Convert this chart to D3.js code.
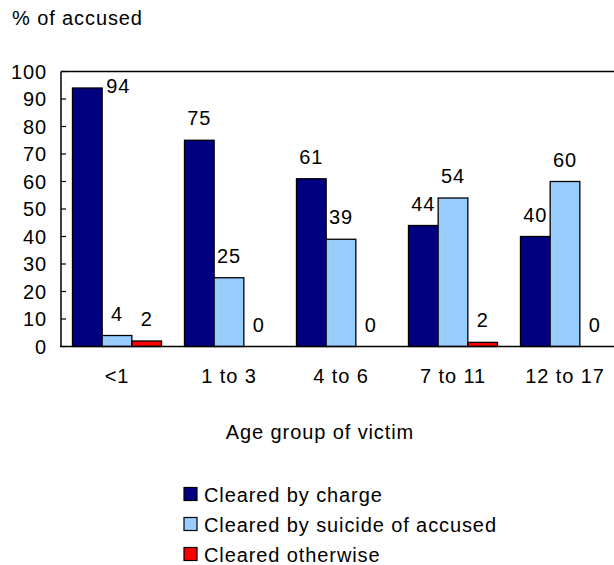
<!DOCTYPE html>
<html>
<head>
<meta charset="utf-8">
<script src="https://cdn.jsdelivr.net/npm/d3@7"></script>
<style>
  body { margin: 0; background: #fff; }
  text { font-family: "Liberation Sans", Arial, sans-serif; fill: #000; font-size: 20px; letter-spacing: 0.9px; }
</style>
</head>
<body>
<svg id="chart" width="614" height="565"></svg>
<script>
// DATA
var age_groups = ["<1", "1 to 3", "4 to 6", "7 to 11", "12 to 17"];
var series_names = ["Cleared by charge", "Cleared by suicide of accused", "Cleared otherwise"];
var charge_values = [94, 75, 61, 44, 40];
var suicide_values = [4, 25, 39, 54, 60];
var otherwise_values = [2, 0, 0, 1.5, 0];
var y_ticks = [0, 10, 20, 30, 40, 50, 60, 70, 80, 90, 100];

var series_colors = ["#000080", "#99ccff", "#ff0000"];
var all_series = [charge_values, suicide_values, otherwise_values];

// LAYOUT
var svg = d3.select("#chart");
var plot_left = 61, plot_top = 71.5, plot_bottom = 346.5;
var band_w = 112;

var x = d3.scaleBand()
  .domain(age_groups)
  .range([plot_left, plot_left + band_w * age_groups.length])
  .paddingInner(0.205)
  .paddingOuter(0.1025);

var x_inner = d3.scaleBand()
  .domain(d3.range(series_names.length))
  .range([0, x.bandwidth()]);

var y = d3.scaleLinear().domain([0, 100]).range([plot_bottom, plot_top]);

// top border of plot area
svg.append("line")
  .attr("x1", plot_left).attr("x2", 614)
  .attr("y1", plot_top).attr("y2", plot_top)
  .attr("stroke", "#000").attr("stroke-width", 1.5);

// bars
var groups = svg.selectAll(".group")
  .data(age_groups)
  .enter().append("g")
    .attr("class", "group")
    .attr("transform", function(d){ return "translate(" + x(d) + ",0)"; });

groups.each(function(g, gi){
  var gsel = d3.select(this);
  all_series.forEach(function(vals, si){
    var v = vals[gi];
    if(v > 0){
      gsel.append("rect")
        .attr("x", x_inner(si))
        .attr("y", y(v))
        .attr("width", x_inner.bandwidth())
        .attr("height", y(0) - y(v))
        .attr("fill", series_colors[si])
        .attr("stroke", "#000")
        .attr("stroke-width", 1.3);
    }
    // value label, moved beside the bar when it would hit the top
    var lx = x_inner(si) + x_inner.bandwidth() / 2;
    var ly = y(v) - 15;
    if(ly < plot_top + 18){
      lx = x_inner(si) + x_inner.bandwidth() + 16;
      ly = y(v) + 5;
    }
    gsel.append("text")
      .attr("x", lx)
      .attr("y", ly)
      .attr("text-anchor", "middle")
      .text(Math.round(v));
  });
});

// y axis
svg.append("line")
  .attr("x1", plot_left).attr("x2", plot_left)
  .attr("y1", plot_top).attr("y2", plot_bottom)
  .attr("stroke", "#000").attr("stroke-width", 1.5);

svg.selectAll(".ytickmark")
  .data(y_ticks)
  .enter().append("line")
    .attr("class", "ytickmark")
    .attr("x1", plot_left).attr("x2", plot_left + 5)
    .attr("y1", function(d){ return y(d); })
    .attr("y2", function(d){ return y(d); })
    .attr("stroke", "#000").attr("stroke-width", 1.2);

svg.append("line")
  .attr("x1", plot_left - 1).attr("x2", 614)
  .attr("y1", plot_bottom).attr("y2", plot_bottom)
  .attr("stroke", "#000").attr("stroke-width", 1.5);

svg.selectAll(".ytick")
  .data(y_ticks)
  .enter().append("text")
    .attr("class", "ytick")
    .attr("x", 47)
    .attr("y", function(d){ return y(d) + 7; })
    .attr("text-anchor", "end")
    .text(function(d){ return d; });

// x labels
svg.selectAll(".xlabel")
  .data(age_groups)
  .enter().append("text")
    .attr("class", "xlabel")
    .attr("x", function(d){ return x(d) + x.bandwidth() / 2; })
    .attr("y", 383)
    .attr("text-anchor", "middle")
    .text(function(d){ return d; });

// titles
svg.append("text")
  .attr("x", 12).attr("y", 25)
  .text("% of accused");

svg.append("text")
  .attr("x", 320).attr("y", 439)
  .attr("text-anchor", "middle")
  .text("Age group of victim");

// legend
var legend = svg.selectAll(".legend")
  .data(series_names)
  .enter().append("g")
    .attr("class", "legend")
    .attr("transform", function(d, i){ return "translate(184," + (487.5 + i * 30) + ")"; });

legend.append("rect")
  .attr("width", 13).attr("height", 13)
  .attr("fill", function(d, i){ return series_colors[i]; })
  .attr("stroke", "#000")
  .attr("stroke-width", 1.2);

legend.append("text")
  .attr("x", 20).attr("y", 14)
  .text(function(d){ return d; });
</script>
</body>
</html>
